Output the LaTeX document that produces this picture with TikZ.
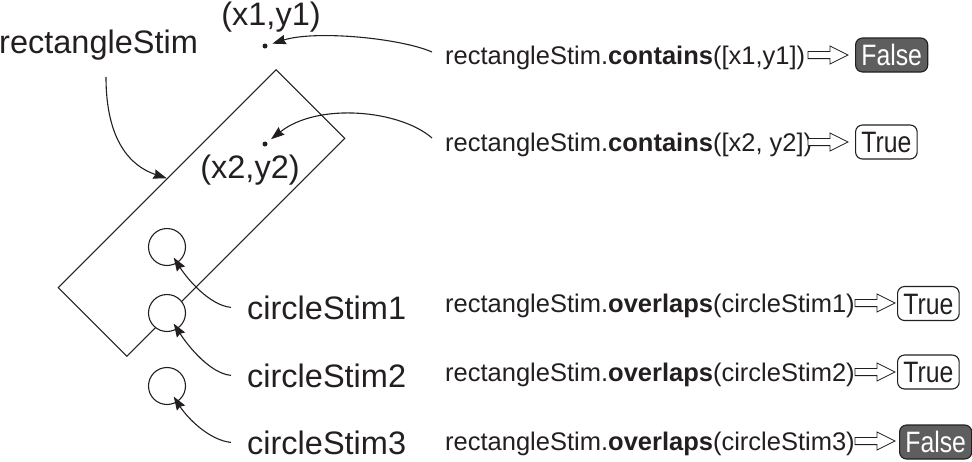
\documentclass[tikz,border=0pt]{standalone}
\usepackage{fontspec}
\usepackage{graphicx}
\setmainfont{Liberation Sans}
\usetikzlibrary{arrows.meta}
\definecolor{ink}{HTML}{231F20}
\definecolor{fgray}{HTML}{5E5E5E}
\newcommand{\boxtxt}[1]{\scalebox{0.84}[1]{#1}}
\begin{document}
\begin{tikzpicture}[x=1pt,y=-1pt,
  bigtext/.style={font=\fontsize{32.5}{39}\selectfont, text=ink, inner sep=0pt, anchor=base west},
  clab/.style={bigtext, inner xsep=16pt},
  codetext/.style={font=\fontsize{25.5}{30}\selectfont, text=ink, inner sep=0pt, anchor=base west},
  tbox/.style={draw=ink, line width=1.1pt, rounded corners=7pt, font=\fontsize{29.5}{34}\selectfont,
    text height=21pt, text depth=0pt, inner xsep=5.8pt, inner ysep=6.5pt, anchor=base west, text=ink},
  fbox/.style={tbox, fill=fgray, text=white},
  arr/.style={draw=ink, line width=1.1pt, -{Stealth[length=13.5pt,width=9.5pt,inset=1.5pt]}},
  stim/.style={circle, draw=ink, line width=1.1pt, fill=white, minimum size=37pt, inner sep=0pt},
  ptdot/.style={circle, fill=ink, inner sep=0pt, minimum size=5pt},
  harrow/.pic={\draw[ink, line width=0.8pt, fill=white] (0,-3.6) -- (22,-3.6) -- (22,-9) -- (40,0) -- (22,9) -- (22,3.6) -- (0,3.6) -- cycle;}
]
\useasboundingbox (0,0) rectangle (972,461);
% rectangle stimulus
\node[draw=ink, line width=1.1pt, minimum width=308pt, minimum height=97pt, rotate=45, inner sep=0pt] (rect) at (201.5,213) {};
% circles
\node[stim] (c1) at (167,247) {};
\node[stim] (c2) at (167,313) {};
\node[stim] (c3) at (167,386) {};
% points
\node[ptdot] (p1) at (265,46) {};
\node[ptdot] (p2) at (265,144) {};
% labels
\node[bigtext] (rs) at (-1,53) {rectangleStim};
\node[bigtext, anchor=base] (l1) at (271,25) {(x1,y1)};
\node[bigtext, anchor=base] (l2) at (250,178) {(x2,y2)};
\node[clab] (c1lab) at (231,319) {circleStim1};
\node[clab] (c2lab) at (231,387) {circleStim2};
\node[clab] (c3lab) at (231,454) {circleStim3};
% code lines
\node[codetext] (r1) at (445,64) {rectangleStim.\textbf{contains}([x1,y1])};
\node[codetext] (r2) at (445,151) {rectangleStim.\textbf{contains}([x2, y2])};
\node[codetext] (r3) at (445,312) {rectangleStim.\textbf{overlaps}(circleStim1)};
\node[codetext] (r4) at (445,381) {rectangleStim.\textbf{overlaps}(circleStim2)};
\node[codetext] (r5) at (445,450) {rectangleStim.\textbf{overlaps}(circleStim3)};
% result arrows
\pic at (808,55) {harrow};
\pic at (808,142) {harrow};
\pic at (855,303) {harrow};
\pic at (855,372) {harrow};
\pic at (855,441) {harrow};
% result boxes
\node[fbox] (b1) at (855,65.5) {\boxtxt{False}};
\node[tbox] (b2) at (855,152.5) {\boxtxt{True}};
\node[tbox] (b3) at (897,314) {\boxtxt{True}};
\node[tbox] (b4) at (897,382.5) {\boxtxt{True}};
\node[fbox] (b5) at (899,452.5) {\boxtxt{False}};
% connectors
\coordinate (s0) at (106,77);
\coordinate (s1) at (432,52);
\coordinate (s2) at (432,138);
\draw[arr] (s0) .. controls (106,140) and (130,166) .. (rect.north);
\draw[arr, shorten >=5pt] (s1) .. controls (400,38) and (315,30) .. (p1);
\draw[arr, shorten >=5pt] (s2) .. controls (400,110) and (318,102) .. (p2);
\draw[arr, shorten >=12.5pt] (c1lab.west) .. controls +(-21,-2) and +(21,33) .. (c1.center);
\draw[arr, shorten >=12.5pt] (c2lab.west) .. controls +(-21,-2) and +(21,33) .. (c2.center);
\draw[arr, shorten >=12.5pt] (c3lab.west) .. controls +(-21,-2) and +(21,33) .. (c3.center);
\end{tikzpicture}
\end{document}
